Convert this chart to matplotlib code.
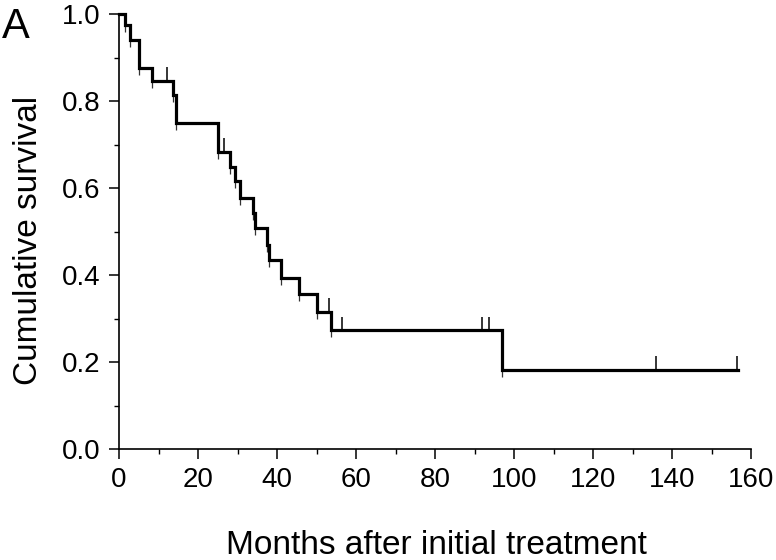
import numpy as np
import matplotlib.pyplot as plt

# Kaplan-Meier steps
event_times = [1.5, 2.8, 5.1, 8.4, 13.6, 14.4, 25.1, 28.1, 29.4, 30.5,
               34.0, 34.4, 37.4, 38.0, 41.0, 45.6, 50.2, 53.7, 96.9]
survival = [0.975, 0.940, 0.877, 0.846, 0.814, 0.749, 0.684, 0.649, 0.616, 0.577,
            0.542, 0.508, 0.470, 0.435, 0.394, 0.357, 0.316, 0.273, 0.182]
censor_times = [12.1, 26.7, 53.2, 56.4, 91.8, 93.6, 135.9, 156.5]
last_time = 156.6

x_ticks = [0, 20, 40, 60, 80, 100, 120, 140, 160]
y_ticks = [0.0, 0.2, 0.4, 0.6, 0.8, 1.0]


def level_at(t):
    i = np.searchsorted(event_times, t, side="right")
    return 1.0 if i == 0 else survival[i - 1]


def main():
    plt.rcParams["font.family"] = ["Liberation Sans", "DejaVu Sans"]

    fig = plt.figure(figsize=(7.76, 5.6), dpi=100)
    ax = fig.add_axes([0.1534, 0.1977, 0.8144, 0.7773])

    xs = [0.0] + event_times + [last_time]
    ys = [1.0] + survival + [survival[-1]]
    ax.step(xs, ys, where="post", color="black", lw=2.3, clip_on=False,
            solid_joinstyle="miter", zorder=3)

    # thin overshoot below each drop, as in the source plot
    ax.vlines(event_times, np.array(survival) - 0.016, survival,
              color="#333333", lw=0.9, zorder=2)

    # censor marks
    c_levels = np.array([level_at(t) for t in censor_times])
    ax.vlines(censor_times, c_levels, c_levels + 0.032, color="black",
              lw=1.1, zorder=3)

    ax.set_xlim(0, 160)
    ax.set_ylim(0, 1.0)
    ax.set_xticks(x_ticks)
    ax.set_xticks(np.arange(0, 161, 10), minor=True)
    ax.set_yticks(y_ticks)
    ax.set_yticks(np.arange(0, 1.01, 0.1), minor=True)
    ax.set_yticklabels([f"{v:.1f}" for v in y_ticks])

    for s in ("top", "right"):
        ax.spines[s].set_visible(False)
    for s in ("left", "bottom"):
        ax.spines[s].set_linewidth(1.2)

    ax.tick_params(which="major", direction="out", length=7.5, width=1.1,
                   labelsize=20, pad=5)
    ax.tick_params(axis="y", which="major", pad=6)
    ax.tick_params(which="minor", direction="out", length=3.5, width=1.0)

    ax.set_xlabel("Months after initial treatment", fontsize=24, va="center")
    ax.xaxis.set_label_coords(0.503, -0.22)
    ax.set_ylabel("Cumulative survival", fontsize=24, va="center")
    ax.yaxis.set_label_coords(-0.144, 0.48)

    fig.text(0.002, 0.988, "A", fontsize=30, ha="left", va="top")

    fig.savefig("out.png", dpi=100)


if __name__ == "__main__":
    main()
